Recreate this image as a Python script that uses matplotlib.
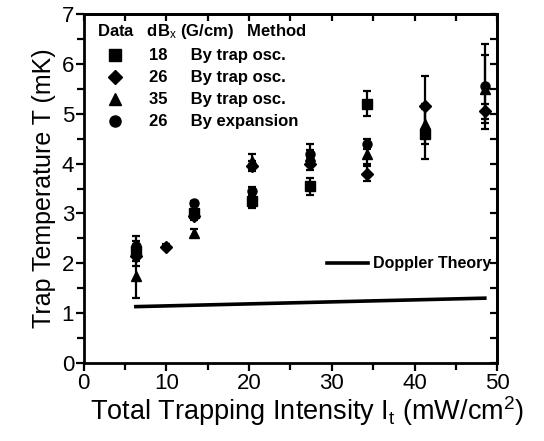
import matplotlib
matplotlib.use("Agg")

import matplotlib.pyplot as plt
from matplotlib.lines import Line2D
from matplotlib.ticker import MultipleLocator

plt.rcParams["font.family"] = ["Liberation Sans", "DejaVu Sans"]
plt.rcParams["mathtext.fontset"] = "custom"
plt.rcParams["mathtext.rm"] = "Liberation Sans"
plt.rcParams["mathtext.it"] = "Liberation Sans"

# DATA  (intensity in mW/cm^2, temperature in mK)
sq_I = [6.3, 13.3, 20.3, 27.3, 34.3, 41.3]
sq_T = [2.25, 3.0, 3.25, 3.55, 5.2, 4.6]
sq_err = [0.3, 0.08, 0.15, 0.17, 0.25, 0.5]

di_I = [6.3, 10.0, 13.3, 20.3, 27.3, 34.3, 41.3, 48.5]
di_T = [2.15, 2.33, 2.95, 3.95, 4.0, 3.8, 5.15, 5.05]
di_err = [0.1, 0.05, 0.08, 0.1, 0.13, 0.15, 0.6, 0.15]

tr_I = [6.3, 13.3, 20.3, 27.3, 34.3, 41.3, 48.5]
tr_T = [1.75, 2.6, 4.05, 4.15, 4.2, 4.8, 5.5]
tr_err = [0.45, 0.08, 0.15, 0.12, 0.2, 0.4, 0.68]

ci_I = [6.3, 13.3, 20.3, 27.3, 34.3, 48.5]
ci_T = [2.35, 3.2, 3.45, 4.2, 4.4, 5.55]
ci_err = [0.1, 0.05, 0.08, 0.2, 0.1, 0.85]

doppler_I = [6.3, 48.5]
doppler_T = [1.13, 1.30]

series = [
    (sq_I, sq_T, sq_err, "s", "18", "By trap osc."),
    (di_I, di_T, di_err, "D", "26", "By trap osc."),
    (tr_I, tr_T, tr_err, "^", "35", "By trap osc."),
    (ci_I, ci_T, ci_err, "o", "26", "By expansion"),
]

fig = plt.figure(figsize=(5.44, 4.41), dpi=100)
ax = fig.add_axes([0.154, 0.177, 0.76, 0.791])

handles, labels = [], []
for xs, ys, es, mk, grad, method in series:
    ax.errorbar(xs, ys, yerr=es, fmt=mk, color="black", ms=6.5 if mk != "D" else 6,
                elinewidth=1.6, capsize=3, capthick=1.6)
    handles.append(Line2D([], [], ls="none", marker=mk, color="black",
                          ms=8 if mk != "D" else 7.5))
    labels.append(f"{grad}     {method}")

dop, = ax.plot(doppler_I, doppler_T, color="black", lw=2.6)

ax.set_xlim(0, 50)
ax.set_ylim(0, 7)
ax.xaxis.set_major_locator(MultipleLocator(10))
ax.xaxis.set_minor_locator(MultipleLocator(5))
ax.yaxis.set_major_locator(MultipleLocator(1))
ax.yaxis.set_minor_locator(MultipleLocator(0.5))
ax.tick_params(which="both", direction="out", width=1.6, labelsize=16, pad=1)
ax.tick_params(which="major", length=6)
ax.tick_params(which="minor", length=5)
for sp in ax.spines.values():
    sp.set_linewidth(2)

# inward ticks on top / right
top = ax.secondary_xaxis("top")
top.xaxis.set_major_locator(MultipleLocator(10))
top.xaxis.set_minor_locator(MultipleLocator(5))
top.tick_params(which="both", direction="in", width=1.6, length=5, labeltop=False)
top.spines["top"].set_linewidth(2)
right = ax.secondary_yaxis("right")
right.yaxis.set_major_locator(MultipleLocator(1))
right.yaxis.set_minor_locator(MultipleLocator(0.5))
right.tick_params(which="both", direction="in", width=1.6, length=5, labelright=False)
right.spines["right"].set_linewidth(2)

ax.set_xlabel("Total Trapping Intensity I$_t$ (mW/cm$^2$)", fontsize=19.5, labelpad=0)
ax.xaxis.set_label_coords(0.54, -0.09, transform=ax.transAxes)
ax.xaxis.label.set_va("top")
ax.set_ylabel("Trap Temperature T (mK)", fontsize=18, labelpad=4)

leg1 = ax.legend(handles, labels, loc="upper left", bbox_to_anchor=(0.012, 1.0),
                 frameon=False,
                 title="Data   dB$_x$ (G/cm)   Method", alignment="left",
                 prop={"size": 12, "weight": "bold"},
                 title_fontproperties={"size": 12, "weight": "bold"},
                 handlelength=2.2, handletextpad=0.9, labelspacing=0.42,
                 borderaxespad=0.2, borderpad=0.3)
leg1._legend_box.align = "left"
ax.add_artist(leg1)

ax.legend([dop], ["Doppler Theory"], loc="center right",
          bbox_to_anchor=(1.005, 0.284), frameon=False, handlelength=2.6,
          handletextpad=0.3, prop={"size": 11.5, "weight": "bold"}, borderaxespad=0.1)

fig.savefig("out.png", dpi=100)
